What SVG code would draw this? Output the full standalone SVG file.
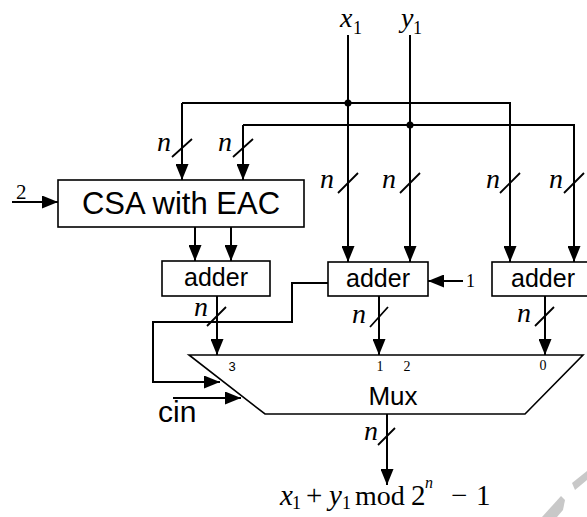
<svg xmlns="http://www.w3.org/2000/svg" width="587" height="517" viewBox="0 0 587 517">
<defs>
<marker id="ah" markerUnits="userSpaceOnUse" markerWidth="16" markerHeight="13" refX="16" refY="6.5" orient="auto">
<path d="M0,0 L16,6.5 L0,13 Z" fill="#000"/>
</marker>
<style>
.box{fill:#fff;stroke:#000;stroke-width:1.6}
.w{fill:none;stroke:#000;stroke-width:2}
.a{fill:none;stroke:#000;stroke-width:2;marker-end:url(#ah)}
.sl{fill:none;stroke:#000;stroke-width:1.8}
.sans{font-family:"Liberation Sans",Arial,sans-serif;fill:#000}
.ser{font-family:"Liberation Serif","Times New Roman",serif;fill:#000}
.n{font-family:"Liberation Serif","Times New Roman",serif;font-style:italic;font-size:28px;fill:#000}
</style>
</defs>
<rect width="587" height="517" fill="#fff"/>
<g id="watermark" fill="#c8c8c8">
<polygon points="572,483 587,471 587,480 575,490"/>
<polygon points="542,517 561,496 565,500 563,510 557,517"/>
</g>
<g id="connectors">
<path class="a" d="M182,103 V180"/>
<path class="a" d="M182,103 H510 V262"/>
<path class="a" d="M243,125 V180"/>
<path class="a" d="M243,125 H574 V262"/>
<path class="a" d="M348,35 V262"/>
<path class="a" d="M410,35 V262"/>
<circle cx="348" cy="103" r="3.5" fill="#000"/>
<circle cx="410" cy="125" r="3.5" fill="#000"/>
<path class="a" d="M12,202 H58"/>
<path class="a" d="M195,227 V261"/>
<path class="a" d="M231,227 V261"/>
<path class="a" d="M463,281 H428"/>
<path class="a" d="M217,296 V355"/>
<path class="a" d="M379,296 V355"/>
<path class="a" d="M545,296 V355"/>
<path class="a" d="M328,283 H292 V322 H153 V382 H220"/>
<path class="a" d="M173,398 H241"/>
<path class="a" d="M387,414 V485"/>
<path class="sl" d="M172,157 L192,139 M233,157 L253,139 M338,193 L358,173 M400,193 L420,173 M500,193 L520,173 M564,193 L584,173 M207,326 L226,307 M370,327 L388,307 M535,326 L554,307 M378,445 L395,428"/>
</g>
<g id="labels">
<text class="ser" font-style="italic" font-size="28" x="340" y="27">x</text>
<text class="ser" font-size="18" x="353" y="34">1</text>
<text class="ser" font-style="italic" font-size="28" x="401" y="27">y</text>
<text class="ser" font-size="18" x="413" y="34">1</text>
<text class="n" x="157" y="151">n</text>
<text class="n" x="218" y="151">n</text>
<text class="n" x="320" y="188">n</text>
<text class="n" x="382" y="188">n</text>
<text class="n" x="486" y="188">n</text>
<text class="n" x="549" y="188">n</text>
<text class="n" x="194" y="316">n</text>
<text class="n" x="352" y="323">n</text>
<text class="n" x="517" y="322">n</text>
<text class="n" x="364" y="440">n</text>
<text class="ser" font-size="21" x="16" y="199">2</text>
<text class="ser" font-size="18" x="466" y="287">1</text>
<text class="sans" font-size="30" x="158" y="422">cin</text>
</g>
<g id="csa">
<rect class="box" x="58" y="180" width="246" height="47"/>
<text class="sans" font-size="31" x="181" y="214" text-anchor="middle">CSA with EAC</text>
</g>
<g id="adder-left">
<rect class="box" x="162" y="261" width="108" height="35"/>
<text class="sans" font-size="25" x="216" y="286" text-anchor="middle">adder</text>
</g>
<g id="adder-mid">
<rect class="box" x="328" y="262" width="100" height="34"/>
<text class="sans" font-size="25" x="378" y="287" text-anchor="middle">adder</text>
</g>
<g id="adder-right">
<rect class="box" x="492" y="262" width="102" height="34"/>
<text class="sans" font-size="25" x="543" y="287" text-anchor="middle">adder</text>
</g>
<g id="mux">
<polygon class="box" points="189,355 583,355 525,414 265,414"/>
<text class="sans" font-size="26" x="393" y="405" text-anchor="middle">Mux</text>
<text class="sans" font-size="13" x="232" y="371" text-anchor="middle">3</text>
<text class="ser" font-size="14" x="380" y="371" text-anchor="middle">1</text>
<text class="ser" font-size="14" x="407" y="371" text-anchor="middle">2</text>
<text class="ser" font-size="14" x="543" y="370" text-anchor="middle">0</text>
</g>
<g id="output">
<text class="ser" font-size="29" y="505"><tspan x="280" font-style="italic">x</tspan><tspan x="292" y="509" font-size="18">1</tspan><tspan x="306" y="505">+</tspan><tspan x="329" font-style="italic">y</tspan><tspan x="342" y="509" font-size="18">1</tspan><tspan x="355" y="505" font-size="28">mod</tspan><tspan x="411">2</tspan><tspan x="425" y="488" font-size="16" font-style="italic">n</tspan><tspan x="451" y="505">−</tspan><tspan x="476">1</tspan></text>
</g>
</svg>
